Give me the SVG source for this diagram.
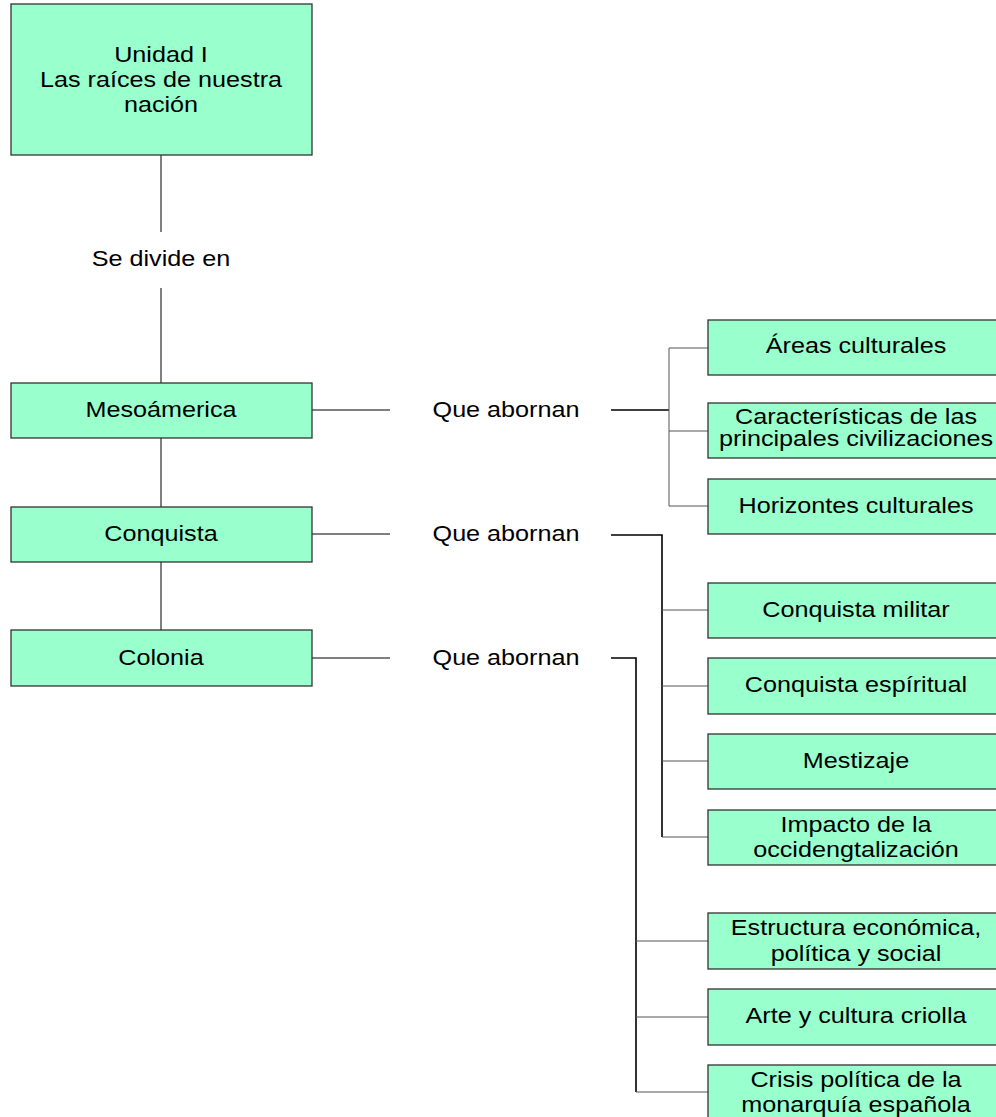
<svg xmlns="http://www.w3.org/2000/svg" width="996" height="1117" viewBox="0 0 996 1117">
<style>
.box{fill:#99FFCC;stroke:#333;stroke-width:1.3}
text{font-family:"Liberation Sans",Arial,sans-serif;font-size:22px;fill:#000;text-anchor:middle}
.c line,.c polyline{fill:none;stroke:#000;stroke-width:1}
.c .g{stroke:#555}
.c .b{stroke-width:1.6}
</style>
<rect width="996" height="1117" fill="#fff"/>
<g class="c" id="connectors">
<line x1="161" y1="155" x2="161" y2="232"/>
<line x1="161" y1="288" x2="161" y2="383"/>
<line x1="161" y1="438" x2="161" y2="507"/>
<line x1="161" y1="562" x2="161" y2="630"/>
<line x1="312" y1="410" x2="390" y2="410"/>
<line x1="312" y1="534" x2="390" y2="534"/>
<line x1="312" y1="658" x2="390" y2="658"/>
<line class="b" x1="611" y1="410" x2="669" y2="410"/>
<polyline class="g" points="708,348 669,348 669,506 708,506"/>
<line class="g" x1="669" y1="431" x2="708" y2="431"/>
<polyline class="b" points="611,535 662,535 662,837"/>
<polyline class="g" points="662,837 708,837"/>
<line class="g" x1="662" y1="610" x2="708" y2="610"/>
<line class="g" x1="662" y1="686" x2="708" y2="686"/>
<line class="g" x1="662" y1="761" x2="708" y2="761"/>
<polyline class="b" points="611,658 636,658 636,1092"/>
<line class="g" x1="636" y1="1092" x2="708" y2="1092"/>
<line class="g" x1="636" y1="941" x2="708" y2="941"/>
<line class="g" x1="636" y1="1017" x2="708" y2="1017"/>
<text transform="translate(161 266) scale(1.145 1)">Se divide en</text>
<text transform="translate(506 417) scale(1.145 1)">Que abornan</text>
<text transform="translate(506 541) scale(1.145 1)">Que abornan</text>
<text transform="translate(506 665) scale(1.145 1)">Que abornan</text>
</g>
<g id="unidad">
<rect class="box" x="11" y="4" width="301" height="151"/>
<text transform="translate(161 62) scale(1.145 1)">Unidad I</text>
<text transform="translate(161 87) scale(1.145 1)">Las raíces de nuestra</text>
<text transform="translate(161 112) scale(1.145 1)">nación</text>
</g>
<g id="mesoamerica">
<rect class="box" x="11" y="383" width="301" height="55"/>
<text transform="translate(161 417) scale(1.145 1)">Mesoámerica</text>
</g>
<g id="conquista">
<rect class="box" x="11" y="507" width="301" height="55"/>
<text transform="translate(161 541) scale(1.145 1)">Conquista</text>
</g>
<g id="colonia">
<rect class="box" x="11" y="630" width="301" height="56"/>
<text transform="translate(161 665) scale(1.145 1)">Colonia</text>
</g>
<g id="areas">
<rect class="box" x="708" y="320" width="296" height="55"/>
<text transform="translate(856 353) scale(1.145 1)">Áreas culturales</text>
</g>
<g id="caracteristicas">
<rect class="box" x="708" y="403" width="296" height="55"/>
<text transform="translate(856 424) scale(1.145 1)">Características de las</text>
<text transform="translate(856 446) scale(1.145 1)">principales civilizaciones</text>
</g>
<g id="horizontes">
<rect class="box" x="708" y="479" width="296" height="55"/>
<text transform="translate(856 513) scale(1.145 1)">Horizontes culturales</text>
</g>
<g id="militar">
<rect class="box" x="708" y="583" width="296" height="55"/>
<text transform="translate(856 617) scale(1.145 1)">Conquista militar</text>
</g>
<g id="espiritual">
<rect class="box" x="708" y="658" width="296" height="56"/>
<text transform="translate(856 692) scale(1.145 1)">Conquista espíritual</text>
</g>
<g id="mestizaje">
<rect class="box" x="708" y="734" width="296" height="55"/>
<text transform="translate(856 768) scale(1.145 1)">Mestizaje</text>
</g>
<g id="impacto">
<rect class="box" x="708" y="810" width="296" height="55"/>
<text transform="translate(856 832) scale(1.145 1)">Impacto de la</text>
<text transform="translate(856 857) scale(1.145 1)">occidengtalización</text>
</g>
<g id="estructura">
<rect class="box" x="708" y="913" width="296" height="56"/>
<text transform="translate(856 935) scale(1.145 1)">Estructura económica,</text>
<text transform="translate(856 961) scale(1.145 1)">política y social</text>
</g>
<g id="arte">
<rect class="box" x="708" y="989" width="296" height="56"/>
<text transform="translate(856 1023) scale(1.145 1)">Arte y cultura criolla</text>
</g>
<g id="crisis">
<rect class="box" x="708" y="1065" width="296" height="60"/>
<text transform="translate(856 1087) scale(1.145 1)">Crisis política de la</text>
<text transform="translate(856 1112) scale(1.145 1)">monarquía española</text>
</g>
</svg>
